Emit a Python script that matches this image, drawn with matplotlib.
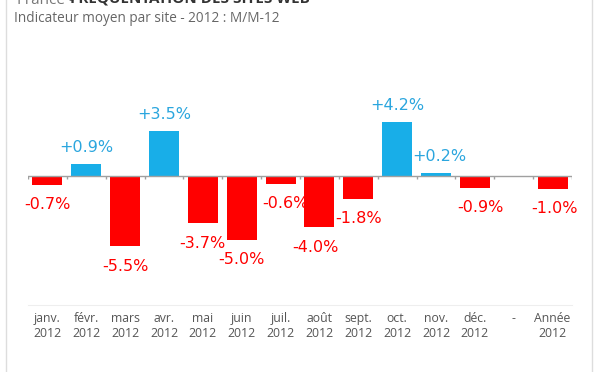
import matplotlib

matplotlib.use("Agg")
import matplotlib.pyplot as plt
from matplotlib.lines import Line2D

months = ["janv.\n2012", "févr.\n2012", "mars\n2012", "avr.\n2012", "mai\n2012",
          "juin\n2012", "juil.\n2012", "août\n2012", "sept.\n2012", "oct.\n2012",
          "nov.\n2012", "déc.\n2012", "-", "Année\n2012"]
values = [-0.7, 0.9, -5.5, 3.5, -3.7, -5.0, -0.6, -4.0, -1.8, 4.2, 0.2, -0.9, None, -1.0]
# small horizontal nudges of the value labels (in category units), to avoid overlaps
label_dx = [0, 0, 0, 0, 0, 0, 0.12, -0.1, 0, 0, 0.08, 0.15, 0, 0.05]

BLUE = "#18AEE8"
RED = "#FF0000"
BLUE_TXT = "#2BA6DE"

fig = plt.figure(figsize=(6, 3.72), dpi=100)
ax = fig.add_axes([28 / 600, 67 / 372, 544 / 600, 215 / 372])

n = len(months)
for i, v in enumerate(values):
    if v is None:
        continue
    color = BLUE if v >= 0 else RED
    ax.bar(i, v, width=0.77, color=color, zorder=2)
    txt = f"{v:+.1f}%"
    if v >= 0:
        ax.text(i + label_dx[i], v + 1.3, txt, ha="center", va="center",
                color=BLUE_TXT, fontsize=11.5)
    else:
        ax.text(i + label_dx[i], v - 1.55, txt, ha="center", va="center",
                color=RED, fontsize=11.5)

ax.set_xlim(-0.5, n - 0.5)
ax.set_ylim(-10.08, 6.72)

# zero line with small ticks between categories
ax.axhline(0, color="#A0A0A0", linewidth=1, zorder=3)
ax.vlines([k - 0.5 for k in range(n + 1)], -0.25, 0, color="#A0A0A0", linewidth=1, zorder=3)

ax.set_xticks(range(n))
ax.set_xticklabels(months, fontsize=8.8, color="#555555", family="Open Sans", linespacing=1.25)
ax.tick_params(axis="x", length=0, pad=5)
ax.set_yticks([])
for side in ["top", "left", "right"]:
    ax.spines[side].set_visible(False)
ax.spines["bottom"].set_color("#EEEEEE")

# light frame on the sides
fig.add_artist(Line2D([6 / 600, 6 / 600], [0, 1], color="#DDDDDD", linewidth=1))
fig.add_artist(Line2D([592 / 600, 592 / 600], [0, 1], color="#DDDDDD", linewidth=1))

fig.text(17 / 600, 1 - 4 / 372, "France -", fontsize=11, color="#777777",
         family="Open Sans", va="baseline")
fig.text(70 / 600, 1 - 4 / 372, "FRÉQUENTATION DES SITES WEB", fontsize=11,
         color="#333333", family="Open Sans", weight="bold", va="baseline")
fig.text(14 / 600, 1 - 22 / 372, "Indicateur moyen par site - 2012 : M/M-12",
         fontsize=9.8, color="#666666", family="Open Sans", va="baseline")

fig.savefig("out.png", dpi=100)
